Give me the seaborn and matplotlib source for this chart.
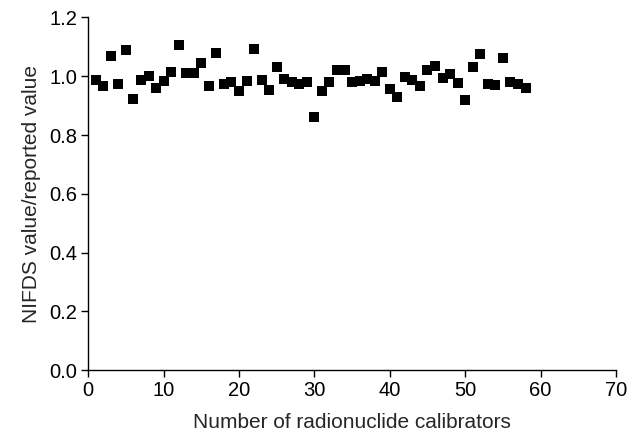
import pandas as pd
import seaborn as sns
import matplotlib
matplotlib.use("Agg")
import matplotlib.pyplot as plt

# Номер калибратора и отношение NIFDS / заявленное значение
calibrator = list(range(1, 59))
ratio = [
    0.988, 0.967, 1.070, 0.974, 1.090, 0.923, 0.988, 1.001, 0.960, 0.984,
    1.015, 1.105, 1.012, 1.012, 1.046, 0.967, 1.080, 0.974, 0.981, 0.950,
    0.984, 1.093, 0.988, 0.954, 1.032, 0.991, 0.979, 0.974, 0.982, 0.862,
    0.950, 0.982, 1.022, 1.022, 0.979, 0.984, 0.991, 0.984, 1.015, 0.957,
    0.930, 0.998, 0.988, 0.967, 1.022, 1.035, 0.995, 1.008, 0.977, 0.920,
    1.032, 1.076, 0.974, 0.971, 1.063, 0.981, 0.974, 0.960,
]

df = pd.DataFrame({"n": calibrator, "ratio": ratio})

sns.set_style("ticks")
plt.rcParams["font.family"] = ["Liberation Sans", "DejaVu Sans"]

fig = plt.figure(figsize=(6.39, 4.36), dpi=100)
ax = fig.add_axes([0.138, 0.151, 0.826, 0.809])

sns.scatterplot(data=df, x="n", y="ratio", marker="s", s=60,
                color="black", edgecolor="black", linewidth=0, ax=ax)

ax.set_xlim(0, 70)
ax.set_ylim(0, 1.2)
ax.set_xticks(range(0, 71, 10))
ax.set_yticks([0.0, 0.2, 0.4, 0.6, 0.8, 1.0, 1.2])
ax.set_yticklabels([f"{v:.1f}" for v in ax.get_yticks()])
ax.tick_params(labelsize=14.5, length=5, width=1, pad=3,
               color="black", labelcolor="black")
ax.set_xlabel("Number of radionuclide calibrators", fontsize=15, labelpad=9)
ax.set_ylabel("NIFDS value/reported value", fontsize=15, labelpad=6)
for side in ["top", "right"]:
    ax.spines[side].set_visible(False)
for side in ["left", "bottom"]:
    ax.spines[side].set_color("black")
    ax.spines[side].set_linewidth(1)

fig.savefig("out.png", dpi=100)
